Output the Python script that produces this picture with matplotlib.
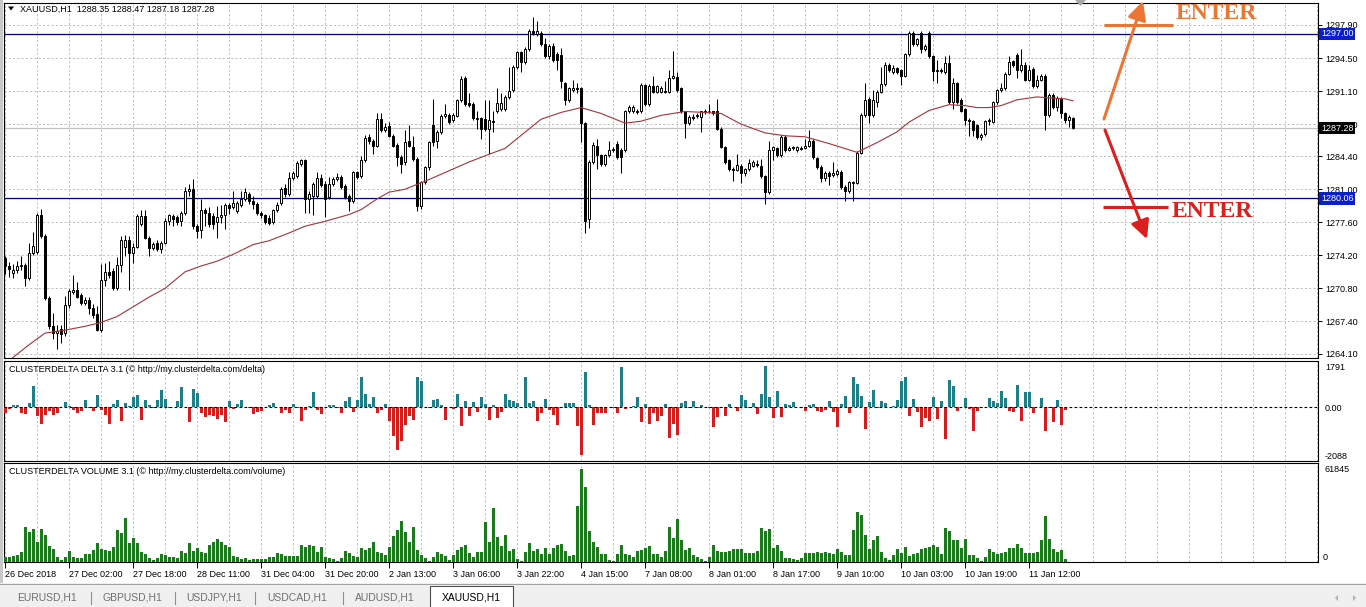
import matplotlib
matplotlib.use('Agg')
import matplotlib.pyplot as plt
from matplotlib.transforms import blended_transform_factory
from matplotlib.patches import Rectangle, Polygon

plt.rcParams['font.family'] = ['Liberation Sans', 'DejaVu Sans']

# ---------------- data ----------------
opens = [1273.9,1273.1,1272.4,1272.7,1273.1,1273.2,1271.9,1274.4,1274.5,1278.3,1276.2,1269.8,1266.9,1266.2,1266.6,1266.2,1269.1,1270.4,1270.6,1270.1,
 1269.3,1269.6,1268.8,1268.2,1266.5,1271.7,1272.5,1272.6,1270.8,1273.2,1275.1,1275.8,1274.4,1275.1,1277.4,1278.2,1276.0,1275.0,1275.5,1274.9,
 1275.5,1277.7,1278.2,1278.1,1277.7,1278.6,1280.8,1281.0,1277.2,1276.8,1278.9,1278.6,1278.2,1277.6,1278.1,1278.3,1279.4,1279.2,1278.8,1279.4,
 1280.0,1280.5,1279.8,1279.5,1278.6,1278.4,1278.0,1277.6,1278.9,1279.6,1281.1,1280.5,1282.2,1282.4,1283.6,1284.0,1280.0,1280.3,1280.3,1282.2,
 1281.5,1280.2,1281.5,1282.1,1282.3,1281.3,1280.3,1279.8,1282.8,1282.4,1284.0,1286.4,1286.0,1285.5,1288.2,1287.1,1287.5,1286.5,1285.6,1284.3,
 1283.8,1286.0,1285.3,1284.1,1279.3,1281.7,1283.3,1287.6,1286.0,1286.9,1288.5,1288.6,1288.1,1288.5,1290.2,1292.4,1289.9,1289.8,1288.3,1288.3,
 1288.2,1287.2,1288.0,1289.0,1289.3,1289.3,1290.5,1291.2,1293.6,1295.1,1294.1,1295.4,1297.3,1297.0,1297.1,1295.9,1294.7,1295.7,1294.9,1294.8,
 1291.9,1290.2,1291.2,1291.45,1291.4,1287.8,1277.9,1283.8,1285.5,1284.5,1283.6,1284.5,1285.0,1285.7,1285.0,1285.0,1289.0,1289.0,1289.0,1289.0,
 1291.7,1289.8,1291.6,1291.0,1291.0,1291.1,1291.0,1292.4,1292.5,1291.4,1289.0,1287.8,1288.45,1288.5,1288.4,1288.97,1289.0,1289.0,1289.1,1287.2,
 1285.3,1284.0,1283.1,1283.0,1283.4,1282.7,1283.1,1283.4,1283.6,1283.4,1282.4,1280.7,1285.0,1285.2,1284.5,1286.4,1285.0,1285.2,1285.0,1285.25,
 1285.2,1285.5,1286.0,1284.2,1283.3,1282.2,1282.7,1282.5,1282.6,1282.8,1281.2,1280.8,1281.6,1281.6,1284.7,1288.6,1290.3,1288.6,1290.0,1291.0,
 1291.8,1293.8,1293.1,1293.5,1293.3,1292.7,1294.9,1297.1,1295.9,1297.1,1295.4,1297.1,1294.7,1293.2,1293.3,1293.1,1294.0,1290.0,1291.9,1290.2,
 1289.3,1288.1,1288.0,1287.6,1286.4,1286.7,1288.0,1287.9,1290.0,1291.2,1291.4,1292.9,1294.2,1294.8,1293.3,1293.8,1292.2,1293.4,1291.6,1292.2,
 1292.7,1288.6,1290.7,1289.5,1290.3,1288.8,1288.1,1288.35]
highs = [1274.1,1273.5,1273.3,1273.6,1274.1,1273.4,1275.5,1276.6,1278.6,1279.0,1276.4,1270.0,1268.3,1267.0,1267.0,1270.0,1270.7,1272.2,1271.5,1270.3,
 1269.9,1269.9,1269.2,1269.0,1273.3,1273.4,1273.6,1272.9,1274.0,1276.2,1276.3,1276.2,1275.5,1278.5,1278.9,1278.9,1276.2,1275.6,1275.8,1275.7,
 1278.0,1278.5,1278.5,1278.3,1278.8,1281.2,1281.5,1282.1,1277.4,1280.0,1279.1,1279.2,1278.6,1279.3,1279.4,1279.6,1279.6,1280.8,1279.8,1280.8,
 1281.1,1280.7,1280.3,1279.7,1278.8,1278.5,1278.3,1279.0,1279.7,1281.2,1281.5,1282.8,1282.9,1283.9,1284.1,1284.1,1280.8,1281.7,1282.8,1282.6,
 1281.8,1282.3,1282.3,1282.7,1282.5,1281.5,1280.5,1282.9,1282.9,1284.4,1286.6,1286.7,1286.2,1288.8,1288.8,1287.8,1287.9,1286.7,1285.8,1284.5,
 1287.1,1287.6,1286.5,1284.3,1281.9,1283.4,1286.0,1290.3,1287.1,1288.7,1289.8,1288.8,1288.8,1290.3,1292.6,1292.6,1290.9,1290.0,1289.0,1288.4,
 1290.2,1290.2,1289.0,1291.4,1290.9,1290.7,1293.6,1293.8,1295.2,1295.2,1295.6,1297.5,1298.7,1298.3,1297.3,1296.6,1295.9,1296.0,1295.1,1295.5,
 1292.0,1291.5,1292.2,1291.9,1291.5,1287.9,1284.0,1285.9,1286.2,1284.6,1284.6,1286.0,1285.3,1286.0,1285.2,1289.2,1289.7,1289.7,1289.3,1291.9,
 1291.8,1291.8,1292.6,1291.7,1291.6,1292.1,1293.3,1295.2,1293.1,1291.5,1289.1,1288.6,1288.7,1288.8,1289.1,1289.3,1289.8,1289.1,1290.3,1287.4,
 1285.5,1284.1,1283.3,1284.6,1283.6,1283.2,1284.1,1284.0,1284.0,1284.1,1282.5,1286.0,1285.5,1285.3,1286.6,1286.6,1285.4,1285.5,1285.5,1285.4,
 1286.2,1287.1,1286.2,1284.3,1283.5,1282.9,1282.9,1283.8,1283.1,1283.0,1281.4,1281.9,1281.9,1284.9,1288.8,1291.9,1290.5,1291.2,1291.2,1293.6,
 1294.1,1294.0,1293.8,1293.6,1293.4,1295.0,1297.3,1297.3,1296.6,1297.3,1295.9,1297.3,1294.8,1294.3,1293.5,1294.7,1294.8,1292.4,1292.0,1290.4,
 1289.4,1288.3,1288.1,1287.7,1286.8,1288.1,1288.3,1290.1,1291.3,1291.9,1293.1,1294.7,1294.3,1295.0,1295.4,1294.1,1293.8,1293.6,1292.8,1292.9,
 1292.9,1290.9,1290.9,1290.6,1290.5,1288.9,1288.6,1288.47]
lows = [1272.3,1272.0,1271.9,1272.4,1272.7,1271.0,1271.7,1274.2,1274.3,1276.0,1269.6,1266.6,1265.6,1264.6,1265.2,1265.9,1268.8,1270.2,1269.8,1269.1,
 1269.1,1268.2,1267.8,1266.4,1266.3,1271.0,1271.9,1270.6,1270.6,1272.5,1274.1,1270.6,1273.4,1275.0,1277.2,1275.9,1274.1,1274.7,1274.6,1274.4,
 1275.4,1277.3,1277.2,1277.3,1277.2,1278.4,1280.3,1276.9,1276.0,1276.0,1277.2,1277.1,1276.9,1276.0,1277.5,1276.9,1278.5,1279.0,1278.6,1279.2,
 1279.8,1279.5,1279.0,1278.4,1278.0,1277.4,1277.3,1277.4,1278.7,1279.4,1280.2,1280.3,1282.0,1282.2,1283.4,1278.6,1278.6,1278.4,1280.1,1281.2,
 1278.1,1280.0,1281.3,1281.9,1281.0,1280.0,1278.8,1279.6,1282.1,1282.2,1283.8,1285.7,1284.6,1285.3,1286.9,1286.9,1286.4,1285.3,1283.4,1282.7,
 1283.5,1285.3,1283.9,1278.8,1279.0,1281.5,1283.0,1285.5,1285.2,1286.7,1288.3,1287.7,1287.9,1288.4,1290.0,1289.6,1289.5,1288.1,1287.2,1286.2,
 1287.0,1284.6,1286.9,1288.8,1289.1,1289.1,1290.3,1291.0,1293.4,1293.1,1293.9,1295.2,1296.9,1296.8,1295.7,1294.5,1294.4,1294.1,1293.3,1291.4,
 1289.7,1290.0,1291.0,1290.9,1285.9,1276.5,1277.0,1283.6,1283.1,1283.4,1283.4,1284.3,1284.8,1284.1,1282.7,1284.8,1288.8,1288.8,1288.7,1288.8,
 1289.6,1289.6,1290.9,1290.9,1290.9,1290.9,1290.9,1292.3,1291.0,1288.8,1286.3,1287.6,1288.1,1288.3,1286.9,1288.7,1288.8,1288.6,1287.1,1285.2,
 1283.6,1282.9,1281.9,1282.9,1281.6,1282.4,1282.9,1283.3,1283.3,1282.2,1279.5,1280.5,1284.0,1284.3,1284.3,1284.8,1284.9,1285.0,1284.8,1285.0,
 1285.1,1285.3,1284.1,1283.1,1281.7,1281.9,1281.4,1282.3,1282.4,1281.0,1279.8,1280.6,1279.8,1281.5,1284.6,1288.4,1287.8,1288.4,1289.5,1290.9,
 1291.6,1293.1,1292.9,1292.9,1291.7,1292.5,1294.7,1295.7,1295.7,1295.0,1295.2,1294.5,1292.1,1291.9,1293.0,1292.9,1289.8,1289.3,1289.8,1288.9,
 1287.6,1286.5,1286.5,1286.2,1286.1,1286.5,1287.6,1287.8,1289.8,1291.0,1291.2,1292.8,1293.6,1292.4,1293.1,1292.1,1292.1,1291.4,1291.4,1292.1,
 1287.1,1288.4,1289.3,1289.0,1288.3,1287.8,1287.4,1287.18]
closes = [1273.1,1272.8,1272.7,1273.1,1273.2,1271.9,1274.4,1275.2,1278.3,1276.2,1269.8,1266.9,1266.2,1266.4,1266.1,1269.1,1270.5,1270.6,1269.9,1269.3,
 1269.6,1268.8,1268.1,1266.5,1271.7,1272.5,1272.2,1270.8,1273.2,1275.8,1275.8,1274.4,1275.1,1278.2,1278.2,1276.0,1275.0,1275.4,1274.9,1275.5,
 1277.7,1278.3,1277.9,1277.6,1278.6,1280.8,1281.0,1277.2,1276.7,1278.9,1278.6,1277.4,1277.4,1278.1,1278.3,1279.4,1279.1,1279.6,1279.6,1280.0,
 1280.7,1279.8,1279.5,1278.6,1278.4,1277.6,1277.5,1278.9,1279.4,1281.0,1280.5,1282.2,1282.7,1283.7,1284.0,1280.0,1280.5,1281.5,1282.2,1281.4,
 1280.0,1281.5,1282.1,1282.3,1281.2,1280.2,1279.8,1282.8,1282.3,1284.0,1286.3,1286.0,1285.5,1288.2,1287.1,1287.4,1286.5,1285.5,1284.3,1283.6,
 1285.9,1285.5,1284.1,1279.3,1281.7,1283.3,1285.9,1285.9,1286.9,1288.5,1288.7,1287.9,1288.6,1290.2,1292.3,1289.8,1289.7,1288.3,1288.2,1287.2,
 1287.2,1288.1,1287.9,1289.9,1289.9,1290.5,1291.1,1293.6,1295.1,1294.1,1295.4,1297.3,1297.1,1297.3,1295.9,1294.7,1295.7,1294.3,1294.3,1292.1,
 1290.2,1291.4,1291.4,1291.35,1287.8,1277.7,1283.8,1285.6,1284.5,1283.6,1284.5,1285.0,1285.1,1284.3,1284.3,1289.0,1289.5,1289.5,1288.9,1291.7,
 1289.8,1291.6,1291.0,1291.6,1291.4,1291.0,1292.4,1292.6,1291.2,1289.0,1287.8,1288.4,1288.38,1288.6,1289.0,1289.02,1289.1,1288.8,1287.2,1285.3,
 1283.8,1283.1,1283.0,1283.5,1282.7,1283.1,1283.7,1283.8,1283.5,1282.4,1280.7,1285.0,1285.3,1284.5,1286.4,1285.0,1285.2,1285.3,1285.3,1285.18,
 1285.5,1286.0,1284.3,1283.3,1282.2,1282.7,1282.4,1282.7,1282.9,1281.2,1280.8,1281.7,1281.7,1284.7,1288.6,1290.2,1288.6,1290.2,1291.0,1291.8,
 1293.8,1293.3,1293.5,1293.1,1292.6,1294.9,1297.1,1295.9,1296.5,1295.4,1295.7,1294.7,1293.2,1293.3,1293.2,1294.0,1290.0,1291.9,1290.0,1289.1,
 1288.1,1288.0,1287.1,1286.4,1286.6,1288.0,1288.1,1290.0,1291.2,1291.4,1292.9,1294.1,1293.8,1293.3,1293.8,1292.2,1293.3,1291.6,1292.2,1292.7,
 1288.6,1290.7,1289.5,1290.4,1288.8,1288.1,1288.4,1287.28]

ma_idx = [0, 2, 6, 10, 15, 20, 24, 28, 32, 36, 40, 45, 49, 53, 57, 62, 66, 71, 75, 80, 86, 89, 93, 96, 100, 103, 106, 111,
          116, 121, 125, 128, 131, 134, 139, 144, 149, 155, 159, 164, 170, 175, 179, 184, 190, 195, 200, 206, 213, 218,
          223, 226, 231, 236, 240, 243, 246, 249, 253, 258, 261, 265, 267]
ma_val = [1262.8, 1263.7, 1265.0, 1266.2, 1266.5, 1266.9, 1267.3, 1267.9, 1268.9, 1269.9, 1270.8, 1272.5, 1273.1, 1273.6,
          1274.3, 1275.3, 1275.7, 1276.5, 1277.2, 1277.7, 1278.4, 1278.9, 1280.0, 1280.7, 1281.0, 1281.5, 1282.0, 1282.9,
          1283.8, 1284.6, 1285.2, 1286.2, 1287.2, 1288.2, 1288.9, 1289.4, 1288.8, 1287.8, 1288.0, 1288.6, 1289.0, 1288.9,
          1288.8, 1287.7, 1286.8, 1286.5, 1286.4, 1285.7, 1284.8, 1285.8, 1286.9, 1287.9, 1289.1, 1289.7, 1289.6, 1289.4,
          1289.4, 1289.6, 1290.2, 1290.5, 1290.4, 1290.3, 1290.1]

delta = [-257,-86,100,100,-257,-286,172,915,-372,-715,-329,-143,-329,-257,20,243,72,-114,-229,-143,
 315,-30,-143,529,-114,-329,-715,143,315,-586,172,72,458,529,-543,315,100,-20,315,772,
 343,-43,20,272,887,15,-643,787,629,-229,-429,-329,-400,-515,-329,-643,257,-86,143,315,
 10,-20,-300,-186,-143,10,100,172,20,-229,-114,-257,129,-20,-615,-114,57,658,-114,-300,
 15,100,100,-15,-229,286,443,-215,315,1316,572,143,458,-229,-114,129,-615,-1258,-1859,-1473,
 -758,-372,-543,1316,1130,20,-15,315,343,100,-543,15,-86,572,-829,286,-372,215,-186,458,
 129,-572,100,-486,-186,572,315,286,172,-15,1316,172,286,-615,-257,343,-114,-329,-786,-43,
 172,200,200,-829,-2088,1559,100,-786,-229,-257,-229,20,-10,-257,1780,-86,15,57,458,-643,
 143,-729,-229,-615,-400,143,-1330,-729,-1215,200,272,-43,272,-30,100,15,-15,-872,-429,-43,
 -400,143,15,-143,529,315,-43,200,-300,601,1791,458,-472,700,-429,143,100,243,15,-15,
 -143,100,143,-143,-215,-114,272,-186,-872,143,486,-229,1316,1001,486,-944,215,744,-43,272,
 172,15,57,315,1144,1316,-400,343,-186,-872,-472,-615,458,-515,272,-1373,1173,915,-143,15,
 415,-72,-1044,-143,-15,15,415,286,200,700,415,-143,-186,958,-615,672,672,-229,15,415,
 -1044,-43,-658,315,-786,-114]

volume = [3330,2886,3774,4440,6660,23310,19980,21534,13320,21534,17760,10434,8436,3330,1110,2886,7104,3330,2664,2220,
 4884,5106,7770,12210,8214,7770,7104,9990,21090,18870,28860,12654,15540,12654,6660,5106,2220,1110,2220,4884,
 4440,3330,3330,2220,7326,5994,12654,7326,8880,6660,5550,11100,13320,14874,13320,11100,9990,3774,3330,1554,
 2220,1110,1998,1776,1554,1554,3330,3330,5994,4884,3774,3774,3774,3774,10878,9990,11100,10434,6660,9546,
 2886,2220,1776,300,2220,7104,5994,3774,3330,8880,7770,8880,12876,6660,5550,4440,9990,17094,21090,27084,
 19980,13320,23310,7770,4440,2220,200,3330,6660,5106,3774,1110,4440,7770,9990,11100,5994,3330,6660,6216,
 26640,13320,35964,16650,10434,17760,7326,8214,1554,200,6216,12210,7104,8436,5200,9000,5000,8880,11100,11766,
 7104,3774,4440,37074,61845,49950,20424,13320,9990,5106,5106,1110,300,5106,11100,5106,4440,3330,7104,7770,
 9324,10434,5106,5106,3330,7104,23310,15984,28416,14430,7770,9324,4440,3330,1554,300,3330,11100,7104,6216,
 6216,7104,8214,8214,8214,5550,5994,5550,7104,22644,20646,21756,9324,11100,7326,2220,2220,1776,1110,2220,
 5550,5994,5994,6660,5994,6216,5994,5106,8436,6216,4440,4440,21090,32856,31080,17760,8436,14430,17094,6216,
 2664,1110,4440,8436,5994,9546,3774,5106,5994,8214,8880,9990,11100,9546,5106,22200,20424,14430,14430,9324,
 14874,4440,4440,2220,300,3330,8436,6660,4884,5994,6660,8880,8880,11766,8880,5994,5994,5994,6660,14430,
 30414,14874,8436,6216,7770,1554]

price_ticks = [1264.10, 1267.40, 1270.80, 1274.20, 1277.60, 1281.00, 1284.40, 1287.70, 1291.10, 1294.50, 1297.90]
level_lines = [1297.00, 1280.06]
last_price = 1287.28
date_labels = ["26 Dec 2018", "27 Dec 02:00", "27 Dec 18:00", "28 Dec 11:00", "31 Dec 04:00", "31 Dec 20:00",
               "2 Jan 13:00", "3 Jan 06:00", "3 Jan 22:00", "4 Jan 15:00", "7 Jan 08:00", "8 Jan 01:00",
               "8 Jan 17:00", "9 Jan 10:00", "10 Jan 03:00", "10 Jan 19:00", "11 Jan 12:00"]
tabs = ["EURUSD,H1", "GBPUSD,H1", "USDJPY,H1", "USDCAD,H1", "AUDUSD,H1", "XAUUSD,H1"]

# ---------------- layout ----------------
W, H = 1366, 607
fig = plt.figure(figsize=(W / 100, H / 100), dpi=100)
fig.patch.set_facecolor('white')


def rect(x0, y0, x1, y1):
    return [x0 / W, 1 - y1 / H, (x1 - x0) / W, (y1 - y0) / H]


ax_m = fig.add_axes(rect(4, 3, 1318, 358))
ax_d = fig.add_axes(rect(4, 361, 1318, 461))
ax_v = fig.add_axes(rect(4, 463, 1318, 562))

XMIN, XMAX = -0.25, 328.25
FS = 6.5
grid_kw = dict(color='#BEBEBE', lw=0.7, ls=(0, (2.2, 2.2)), zorder=0)

for ax in (ax_m, ax_d, ax_v):
    ax.set_xlim(XMIN, XMAX)
    for s in ax.spines.values():
        s.set_linewidth(0.8)
        s.set_color('black')
    for g in range(0, 329, 8):
        ax.axvline(g, **grid_kw)
    ax.yaxis.tick_right()

# ---------------- main price panel ----------------
ax_m.set_ylim(1263.64, 1300.16)
for t in price_ticks:
    ax_m.axhline(t, **grid_kw)

n = len(closes)
xs = list(range(n))
ax_m.vlines(xs, lows, highs, color='black', lw=0.75, zorder=3)
bottoms = [min(o, c) for o, c in zip(opens, closes)]
heights = [max(abs(c - o), 0.03) for o, c in zip(opens, closes)]
faces = ['white' if c >= o else 'black' for o, c in zip(opens, closes)]
ax_m.bar(xs, heights, bottom=bottoms, width=0.6, color=faces, edgecolor='black', linewidth=0.7, zorder=4)

ax_m.plot(ma_idx, ma_val, color='#A8323A', lw=0.8, zorder=5)
for lv in level_lines:
    ax_m.axhline(lv, color='#000080', lw=0.9, zorder=2)
ax_m.axhline(last_price, color='#C0C0C0', lw=0.9, zorder=1)

ax_m.set_xticks([])
ax_m.set_yticks(price_ticks)
ax_m.set_yticklabels([f'{t:.2f}' for t in price_ticks])
ax_m.tick_params(axis='y', length=3, width=0.7, pad=2, labelsize=FS, direction='out')

trm = blended_transform_factory(ax_m.transAxes, ax_m.transData)
for lv in level_lines:
    ax_m.text(1.0 + 3 / 1314, lv, f'{lv:.2f}', transform=trm, ha='left', va='center', fontsize=FS,
              color='white', clip_on=False, zorder=10,
              bbox=dict(boxstyle='square,pad=0.18', fc='#0A1ECC', ec='none'))
ax_m.text(1.0 + 3 / 1314, last_price, f'{last_price:.2f}', transform=trm, ha='left', va='center', fontsize=FS,
          color='white', clip_on=False, zorder=10,
          bbox=dict(boxstyle='square,pad=0.18', fc='black', ec='none'))

# ---------------- delta panel ----------------
ax_d.set_ylim(-2345, 2022)
dcol = ['#1F7F88' if v >= 0 else '#D41E1E' for v in delta]
ax_d.bar(range(len(delta)), delta, width=0.75, color=dcol, zorder=3)
ax_d.axhline(0, color='black', lw=0.8, ls=(0, (2.5, 2)), zorder=4)
ax_d.set_xticks([])
ax_d.set_yticks([1791, 0, -2088])
ax_d.set_yticklabels(['1791', '0.00', '-2088'])
ax_d.tick_params(axis='y', length=0, pad=5, labelsize=FS)

# ---------------- volume panel ----------------
ax_v.set_ylim(-200, 65800)
ax_v.bar(range(len(volume)), volume, width=0.75, color='#1B7A1B', zorder=3)
ax_v.set_yticks([61845])
ax_v.set_yticklabels(['61845'])
ax_v.tick_params(axis='y', length=0, pad=5, labelsize=FS)
trv = blended_transform_factory(ax_v.transAxes, ax_v.transData)
ax_v.text(1.0 + 5 / 1314, 0, '0', transform=trv, ha='left', va='bottom', fontsize=FS, clip_on=False)

ax_v.set_xticks(list(range(0, 16 * len(date_labels), 16)))
ax_v.set_xticklabels(date_labels)
for lb in ax_v.get_xticklabels():
    lb.set_ha('left')
ax_v.tick_params(axis='x', length=4, width=0.7, pad=2, labelsize=FS, direction='out')

# ---------------- overlay: captions, tabs, annotations ----------------
ov = fig.add_axes([0, 0, 1, 1], zorder=20)
ov.set_xlim(0, W)
ov.set_ylim(H, 0)
ov.axis('off')
ov.patch.set_alpha(0)

ov.add_patch(Rectangle((0, 0), 3, 583, fc='#C8C8C8', ec='none'))
ov.add_patch(Polygon([(8, 6.5), (14, 6.5), (11, 10.5)], closed=True, fc='black', ec='none'))
ov.text(20, 9, 'XAUUSD,H1  1288.35 1288.47 1287.18 1287.28', fontsize=FS, va='center', ha='left')
ov.text(9, 369, 'CLUSTERDELTA DELTA 3.1 (\u00a9 http://my.clusterdelta.com/delta)', fontsize=FS,
        va='center', ha='left')
ov.text(9, 472, 'CLUSTERDELTA VOLUME 3.1 (\u00a9 http://my.clusterdelta.com/volume)', fontsize=FS,
        va='center', ha='left')
ov.add_patch(Polygon([(1075, 0), (1086, 0), (1080.5, 6)], closed=True, fc='#A8A8A8', ec='none'))

# tabs
ov.add_patch(Rectangle((0, 583), W, 24, fc='#F0F0F0', ec='none'))
ov.plot([0, W], [583.5, 583.5], color='#A0A0A0', lw=0.7)
ov.add_patch(Rectangle((430, 586), 83, 22, fc='white', ec='#505050', lw=0.8))
tab_x = [47, 132, 214, 297, 385, 471]
for i, (tx, name) in enumerate(zip(tab_x, tabs)):
    ov.text(tx, 598, name, fontsize=7.5, ha='center', va='center',
            color='black' if i == len(tabs) - 1 else '#707070')
for sx in [91, 175, 255, 343]:
    ov.plot([sx, sx], [592, 604], color='#909090', lw=0.8)
ov.add_patch(Polygon([(1335, 598), (1338, 595), (1338, 601)], closed=True, fc='#B0B0B0', ec='none'))
ov.add_patch(Polygon([(1356, 598), (1353, 595), (1353, 601)], closed=True, fc='#B0B0B0', ec='none'))

# ENTER annotations
orange = '#EA7535'
red = '#DC1E1E'
ov.annotate('', xy=(1143, 1), xytext=(1104, 119),
            arrowprops=dict(arrowstyle='-|>,head_length=0.7,head_width=0.35', color=orange, lw=2.2,
                            shrinkA=0, shrinkB=0, mutation_scale=16))
ov.plot([1104, 1173], [25, 25], color=orange, lw=2.2, solid_capstyle='butt')
ov.text(1176, 13.5, 'ENTER', color=orange, fontsize=17, fontweight='bold', family='Liberation Serif',
        ha='left', va='center')
ov.annotate('', xy=(1147, 239), xytext=(1105, 130),
            arrowprops=dict(arrowstyle='-|>,head_length=0.7,head_width=0.35', color=red, lw=2.2,
                            shrinkA=0, shrinkB=0, mutation_scale=16))
ov.plot([1103, 1168], [207, 207], color=red, lw=2.2, solid_capstyle='butt')
ov.text(1172, 211.5, 'ENTER', color=red, fontsize=17, fontweight='bold', family='Liberation Serif',
        ha='left', va='center')

fig.savefig('out.png', dpi=100, facecolor='white')
